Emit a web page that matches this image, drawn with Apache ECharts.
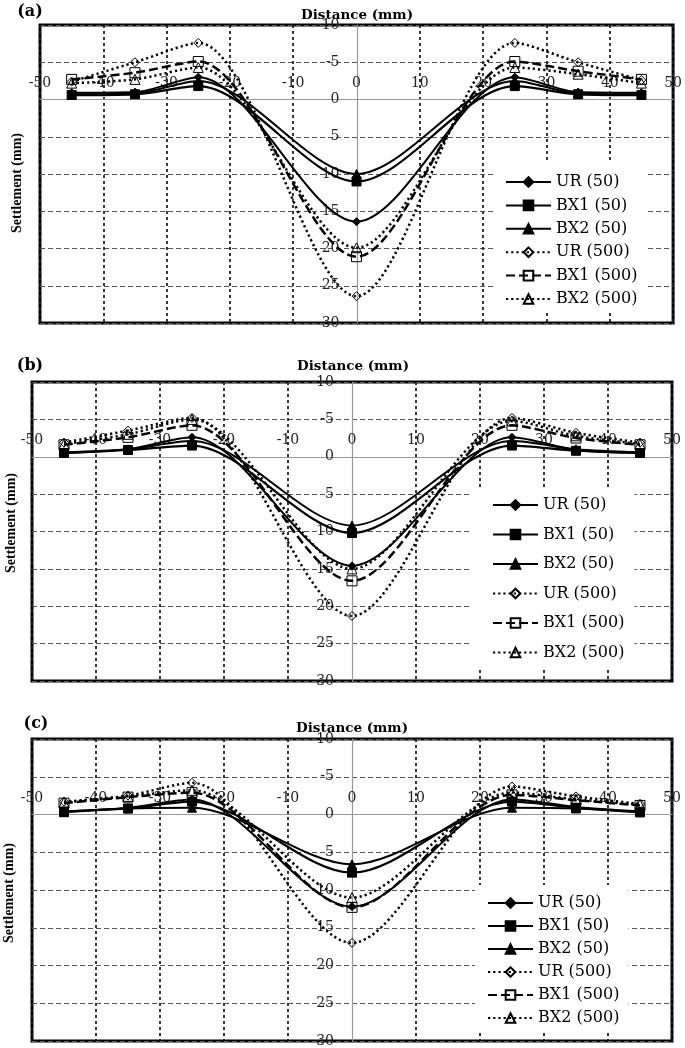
<!DOCTYPE html>
<html><head><meta charset="utf-8">
<script src="https://cdn.jsdelivr.net/npm/echarts@6/dist/echarts.min.js"></script>
<style>html,body{margin:0;padding:0;background:#fff}#c{width:685px;height:1048px}</style>
</head><body><div id="c"></div>
<script>
// ---------- data ----------
const xValues = [-45, -35, -25, 0, 25, 35, 45];
const xTicks = [-50, -40, -30, -20, -10, 0, 10, 20, 30, 40, 50];
const yTicks = [-10, -5, 0, 5, 10, 15, 20, 25, 30];
const seriesNames = ['UR (50)', 'BX1 (50)', 'BX2 (50)', 'UR (500)', 'BX1 (500)', 'BX2 (500)'];
const panelLabels = ['(a)', '(b)', '(c)'];
const xTitle = 'Distance (mm)';
const yTitle = 'Settlement (mm)';

// panel (a)
const a_UR50   = [-0.9, -1.0, -3.0, 16.4, -3.0, -1.0, -0.9];
const a_BX1_50 = [-0.6, -0.7, -1.8, 11.0, -1.8, -0.7, -0.6];
const a_BX2_50 = [-0.7, -0.8, -2.5, 10.0, -2.5, -0.8, -0.7];
const a_UR500  = [-2.4, -5.0, -7.6, 26.4, -7.6, -5.0, -2.6];
const a_BX1_500= [-2.7, -3.6, -5.1, 21.1, -5.1, -3.8, -2.7];
const a_BX2_500= [-2.2, -2.7, -4.3, 19.9, -4.3, -3.4, -2.2];
// panel (b)
const b_UR50   = [-0.5, -1.0, -2.6, 14.6, -2.6, -0.9, -0.5];
const b_BX1_50 = [-0.5, -0.9, -1.5, 10.2, -1.5, -0.8, -0.5];
const b_BX2_50 = [-0.6, -1.0, -2.1, 9.2, -2.1, -1.0, -0.6];
const b_UR500  = [-1.9, -3.5, -5.2, 21.3, -5.2, -3.2, -1.9];
const b_BX1_500= [-1.6, -2.6, -4.2, 16.6, -4.2, -2.5, -1.6];
const b_BX2_500= [-1.7, -3.0, -5.0, 15.0, -4.8, -2.8, -1.7];
// panel (c)
const c_UR50   = [-0.4, -0.9, -2.0, 12.2, -2.0, -1.0, -0.4];
const c_BX1_50 = [-0.4, -0.8, -1.7, 7.7, -1.7, -0.9, -0.3];
const c_BX2_50 = [-0.3, -0.8, -0.9, 6.6, -0.9, -0.8, -0.3];
const c_UR500  = [-1.7, -2.5, -4.2, 17.0, -3.7, -2.4, -1.4];
const c_BX1_500= [-1.5, -2.3, -2.9, 12.3, -2.6, -1.9, -1.2];
const c_BX2_500= [-1.6, -2.4, -3.2, 11.0, -2.9, -2.0, -1.3];

const panelData = [
  [a_UR50, a_BX1_50, a_BX2_50, a_UR500, a_BX1_500, a_BX2_500],
  [b_UR50, b_BX1_50, b_BX2_50, b_UR500, b_BX1_500, b_BX2_500],
  [c_UR50, c_BX1_50, c_BX2_50, c_UR500, c_BX1_500, c_BX2_500]
];

// ---------- layout / styles ----------
const layout = [
  {grid:{left:40, top:25, width:635, height:298}, lab:[30,11.5], xt:[357,15], yt:[17,183],
   leg:{left:493, top:163, padding:[11,9,3,12], gap:7.4}},
  {grid:{left:32, top:382, width:640, height:299}, lab:[30,365.5], xt:[353,366], yt:[11,523],
   leg:{left:472, top:490, padding:[7,10,7,20], gap:13.5}},
  {grid:{left:32, top:739, width:640, height:302}, lab:[36,723.5], xt:[352,728], yt:[9,893],
   leg:{left:475, top:885, padding:[10,9,5,12], gap:7}}
];

const seriesStyles = [
  {symbol:'diamond',  size:8,  fill:'#000', type:'solid', width:2},
  {symbol:'rect',     size:9,  fill:'#000', type:'solid', width:2.2},
  {symbol:'triangle', size:9,  fill:'#000', type:'solid', width:2},
  {symbol:'diamond',  size:9,  fill:'rgba(255,255,255,0)', type:[2.2,3], width:2.5},
  {symbol:'rect',     size:10, fill:'rgba(255,255,255,0)', type:[9,4], width:2.5},
  {symbol:'triangle', size:10, fill:'rgba(255,255,255,0)', type:[2.2,3], width:2.5}
];

const xMin = xTicks[0], xMax = xTicks[xTicks.length-1];
const yMin = yTicks[0], yMax = yTicks[yTicks.length-1];
const xSplitColors = xTicks.map(v => v === 0 ? 'rgba(0,0,0,0)' : '#222');
const ySplitColors = yTicks.map(v => v === 0 ? 'rgba(0,0,0,0)' : '#555');
const serif = 'DejaVu Serif';

const grids = [], xAxes = [], yAxes = [], series = [], legends = [], graphics = [];
layout.forEach((L, p) => {
  const g = L.grid;
  grids.push(Object.assign({show:true, borderColor:'#000', borderWidth:3, backgroundColor:'rgba(0,0,0,0)', containLabel:false}, g));
  // axes cross at zero: shift them inside the grid by the pixel distance to the zero line
  const xOff = -((0 - yMin) / (yMax - yMin)) * g.height;
  const yOff = -((0 - xMin) / (xMax - xMin)) * g.width;
  xAxes.push({
    gridIndex:p, type:'value', position:'top', offset:xOff,
    min:xMin, max:xMax, interval:xTicks[1]-xTicks[0],
    axisLine:{show:true, onZero:false, lineStyle:{color:'#999', width:1.2}},
    axisTick:{show:false},
    axisLabel:{margin:9, fontFamily:serif, fontSize:14, color:'#222'},
    splitLine:{show:true, lineStyle:{color:xSplitColors, type:[3,3], width:1.8}}
  });
  yAxes.push({
    gridIndex:p, type:'value', inverse:true, position:'left', offset:yOff,
    min:yMin, max:yMax, interval:yTicks[1]-yTicks[0],
    axisLine:{show:true, onZero:false, lineStyle:{color:'#999', width:1.2}},
    axisTick:{show:false},
    axisLabel:{margin:18, fontFamily:serif, fontSize:14, color:'#222'},
    splitLine:{show:true, lineStyle:{color:ySplitColors, type:[5,3], width:1.2}}
  });
  panelData[p].forEach((vals, k) => {
    const s = seriesStyles[k];
    series.push({
      name:seriesNames[k], type:'line', xAxisIndex:p, yAxisIndex:p,
      data: xValues.map((x, i) => [x, vals[i]]),
      smooth:0.3, symbol:s.symbol, symbolSize:s.size, showSymbol:true,
      lineStyle:{color:'#000', width:s.width, type:s.type},
      itemStyle:{color:s.fill, borderColor:'#000', borderWidth:1},
      emphasis:{disabled:true}, animation:false, z: 2 + (5-k)*0.01
    });
  });
  legends.push({
    orient:'vertical', left:L.leg.left, top:L.leg.top, padding:L.leg.padding,
    itemWidth:45, itemHeight:12, itemGap:L.leg.gap, backgroundColor:'#fff',
    selectedMode:false,
    textStyle:{fontFamily:serif, fontSize:16, color:'#000', lineHeight:16},
    data:seriesNames
  });
  graphics.push({type:'text', x:L.lab[0], y:L.lab[1],
    style:{text:panelLabels[p], font:'bold 16px "DejaVu Serif"', fill:'#000', align:'center', verticalAlign:'middle'}});
  graphics.push({type:'text', x:L.xt[0], y:L.xt[1],
    style:{text:xTitle, font:'bold 13.5px "DejaVu Serif"', fill:'#000', align:'center', verticalAlign:'middle'}});
  graphics.push({type:'text', x:L.yt[0], y:L.yt[1], rotation:Math.PI/2,
    style:{text:yTitle, font:'bold 14px "Liberation Serif"', fill:'#000', align:'center', verticalAlign:'middle'}});
});

const chart = echarts.init(document.getElementById('c'), null, {renderer:'canvas'});
chart.setOption({
  backgroundColor:'#fff', animation:false,
  grid:grids, xAxis:xAxes, yAxis:yAxes, series:series, legend:legends, graphic:graphics
});
</script></body></html>
